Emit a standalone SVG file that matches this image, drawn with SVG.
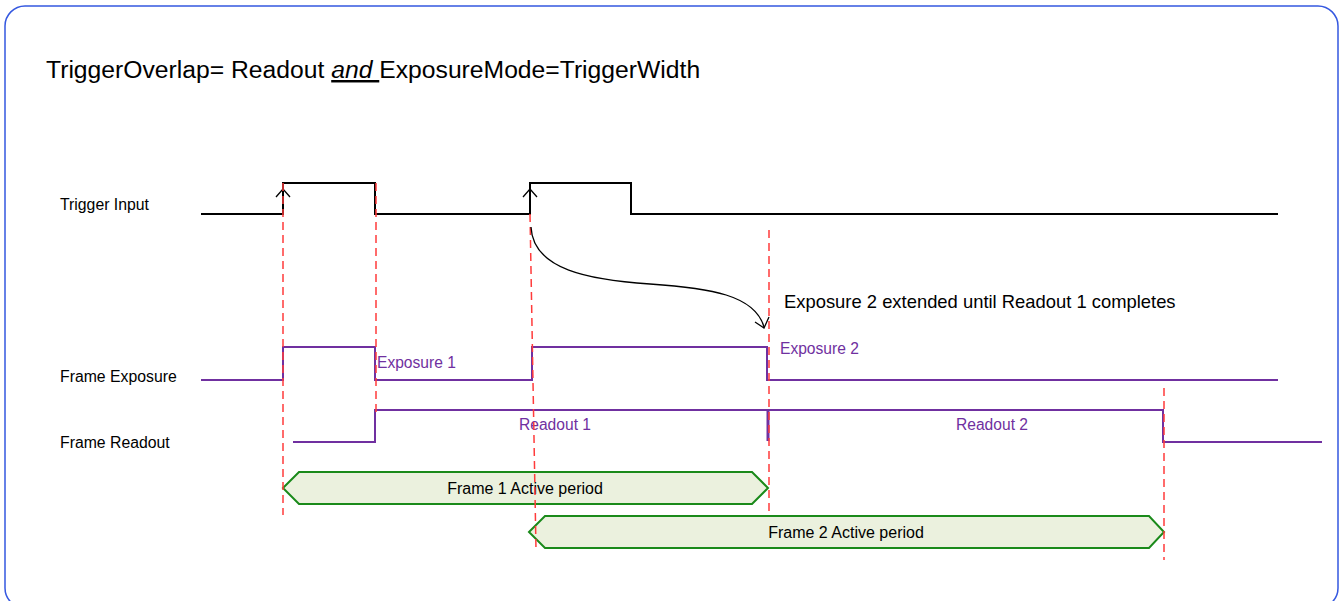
<svg xmlns="http://www.w3.org/2000/svg" width="1340" height="601" viewBox="0 0 1340 601">
<style>
.lbl{font-family:"Liberation Sans",Arial,sans-serif;font-size:15.8px;fill:#000}
.plbl{font-family:"Liberation Sans",Arial,sans-serif;font-size:15.6px;fill:#7030a0}
.sig{fill:none;stroke:#000;stroke-width:2}
.psig{fill:none;stroke:#7030a0;stroke-width:2}
.dash{fill:none;stroke:#ff3b3b;stroke-width:1.5;stroke-dasharray:8,5}
.hex{fill:#ebf1de;stroke:#1a8a1a;stroke-width:2}
.htxt{font-family:"Liberation Sans",Arial,sans-serif;font-size:16px;fill:#000;text-anchor:middle}
.arr{fill:none;stroke:#000;stroke-width:1.3}
</style>
<rect x="5" y="6" width="1333" height="602" rx="20" ry="20" fill="#fff" stroke="#3558e0" stroke-width="1.5"/>
<g id="title">
<text x="46" y="78" font-family="Liberation Sans, Arial, sans-serif" font-size="24.7" fill="#000">TriggerOverlap= Readout <tspan font-style="italic" text-decoration="underline">and </tspan>ExposureMode=TriggerWidth</text>
</g>
<g id="label-trigger"><text class="lbl" x="60" y="210">Trigger Input</text></g>
<g id="label-exposure"><text class="lbl" x="60" y="382">Frame Exposure</text></g>
<g id="label-readout"><text class="lbl" x="60" y="448">Frame Readout</text></g>
<g id="signal-trigger">
<polyline class="sig" points="201,214 283,214 283,183 375,183 375,214 530,214 530,183 631,183 631,214 1278,214"/>
<polyline class="arr" points="276,197 283,189 290,197"/>
<polyline class="arr" points="523,197 530,189 537,197"/>
</g>
<g id="signal-exposure">
<polyline class="psig" points="201,380 283,380 283,347 375,347 375,380 532,380 532,347 767,347 767,380 1278,380"/>
<text class="plbl" x="377" y="368">Exposure 1</text>
<text class="plbl" x="780" y="354">Exposure 2</text>
</g>
<g id="signal-readout">
<polyline class="psig" points="293,442 375,442 375,410 1163,410 1163,442 1322,442"/>
<line x1="768" y1="410" x2="768" y2="441" stroke="#7030a0" stroke-width="3"/>
<text class="plbl" x="555" y="430" text-anchor="middle">Readout 1</text>
<text class="plbl" x="992" y="430" text-anchor="middle">Readout 2</text>
</g>
<g id="frame1-active">
<polygon class="hex" points="283,488 299,472 752,472 768,488 752,504 299,504"/>
<text class="htxt" x="525" y="493.5">Frame 1 Active period</text>
</g>
<g id="frame2-active">
<polygon class="hex" points="529,532 545,516 1149,516 1164,532 1149,548 545,548"/>
<text class="htxt" x="846" y="537.5">Frame 2 Active period</text>
</g>
<g id="annotation">
<text x="784" y="308" font-family="Liberation Sans, Arial, sans-serif" font-size="18.4" fill="#000">Exposure 2 extended until Readout 1 completes</text>
</g>
<g id="connectors">
<line class="dash" x1="283" y1="183" x2="283" y2="515"/>
<line class="dash" x1="376" y1="183" x2="376" y2="412"/>
<line class="dash" x1="530" y1="214" x2="536" y2="550"/>
<line class="dash" x1="769" y1="230" x2="769" y2="515"/>
<line class="dash" x1="1164" y1="388" x2="1164" y2="560"/>
<path class="arr" d="M531,227 C533,270 590,280 650,284 C710,288 755,295 764,327"/>
<polyline class="arr" points="755,322 764,328 769,317"/>
</g>
</svg>
